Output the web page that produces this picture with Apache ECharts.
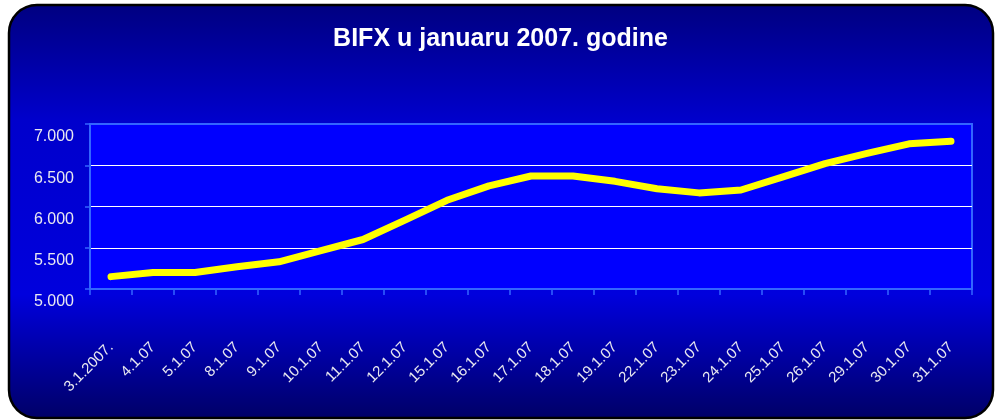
<!DOCTYPE html>
<html>
<head>
<meta charset="utf-8">
<script src="https://cdn.jsdelivr.net/npm/echarts@6/dist/echarts.min.js"></script>
<style>
html,body{margin:0;padding:0;background:#ffffff;}
#chart{width:1001px;height:420px;}
</style>
</head>
<body>
<div id="chart"></div>
<script>
var titleText = 'BIFX u januaru 2007. godine';
var categories = ['3.1.2007.','4.1.07','5.1.07','8.1.07','9.1.07','10.1.07','11.1.07','12.1.07','15.1.07','16.1.07','17.1.07','18.1.07','19.1.07','22.1.07','23.1.07','24.1.07','25.1.07','26.1.07','29.1.07','30.1.07','31.1.07'];
var bifxValues = [5150,5200,5200,5270,5330,5465,5600,5835,6075,6250,6370,6370,6305,6215,6165,6200,6360,6520,6645,6760,6790];
var yTicks = [5000,5500,6000,6500,7000];

var chart = echarts.init(document.getElementById('chart'), null, {renderer:'canvas'});
var font = '"Liberation Sans", Arial, sans-serif';
chart.setOption({
  animation:false,
  graphic:[{
    type:'rect', z:-10, silent:true,
    shape:{x:9, y:5, width:984, height:413, r:28},
    style:{
      fill:new echarts.graphic.LinearGradient(0,0,0,1,[
        {offset:0,color:'#000080'},
        {offset:0.28,color:'#0000CC'},
        {offset:0.7,color:'#0000DD'},
        {offset:1,color:'#000066'}
      ]),
      stroke:'#000000', lineWidth:2.5
    }
  }],
  title:{
    text:titleText, left:'center', top:22,
    textStyle:{color:'#ffffff', fontSize:25, fontWeight:'bold', fontFamily:font}
  },
  grid:{
    left:90, right:29, top:124, bottom:131,
    show:true, backgroundColor:'#0000FF', borderColor:'#3366FF', borderWidth:2
  },
  xAxis:{
    type:'category', data:categories, boundaryGap:true,
    axisLine:{show:true, lineStyle:{color:'#3366FF', width:2}},
    axisTick:{show:true, length:6, interval:0, lineStyle:{color:'#3366FF', width:1.5}},
    axisLabel:{interval:0, rotate:45, margin:56, color:'#E8E8F0', fontSize:15, fontFamily:font},
    splitLine:{show:false}
  },
  yAxis:{
    type:'value', min:yTicks[0], max:yTicks[yTicks.length-1], interval:500,
    axisLine:{show:true, lineStyle:{color:'#3366FF', width:2}},
    axisTick:{show:true, length:5, lineStyle:{color:'#3366FF', width:1.5}},
    axisLabel:{
      margin:16, color:'#E8E8F0', fontSize:16, fontFamily:font,
      verticalAlign:'top', lineHeight:26,
      formatter:function(v){ return (v/1000).toFixed(3); }
    },
    splitLine:{show:true, lineStyle:{color:['#3366FF','#ffffff','#ffffff','#ffffff','#3366FF'], width:1}}
  },
  series:[{
    type:'line', data:bifxValues, smooth:false, showSymbol:false,
    lineStyle:{color:'#FFFF00', width:7, cap:'round', join:'round'},
    itemStyle:{color:'#FFFF00'}
  }]
});
</script>
</body>
</html>
